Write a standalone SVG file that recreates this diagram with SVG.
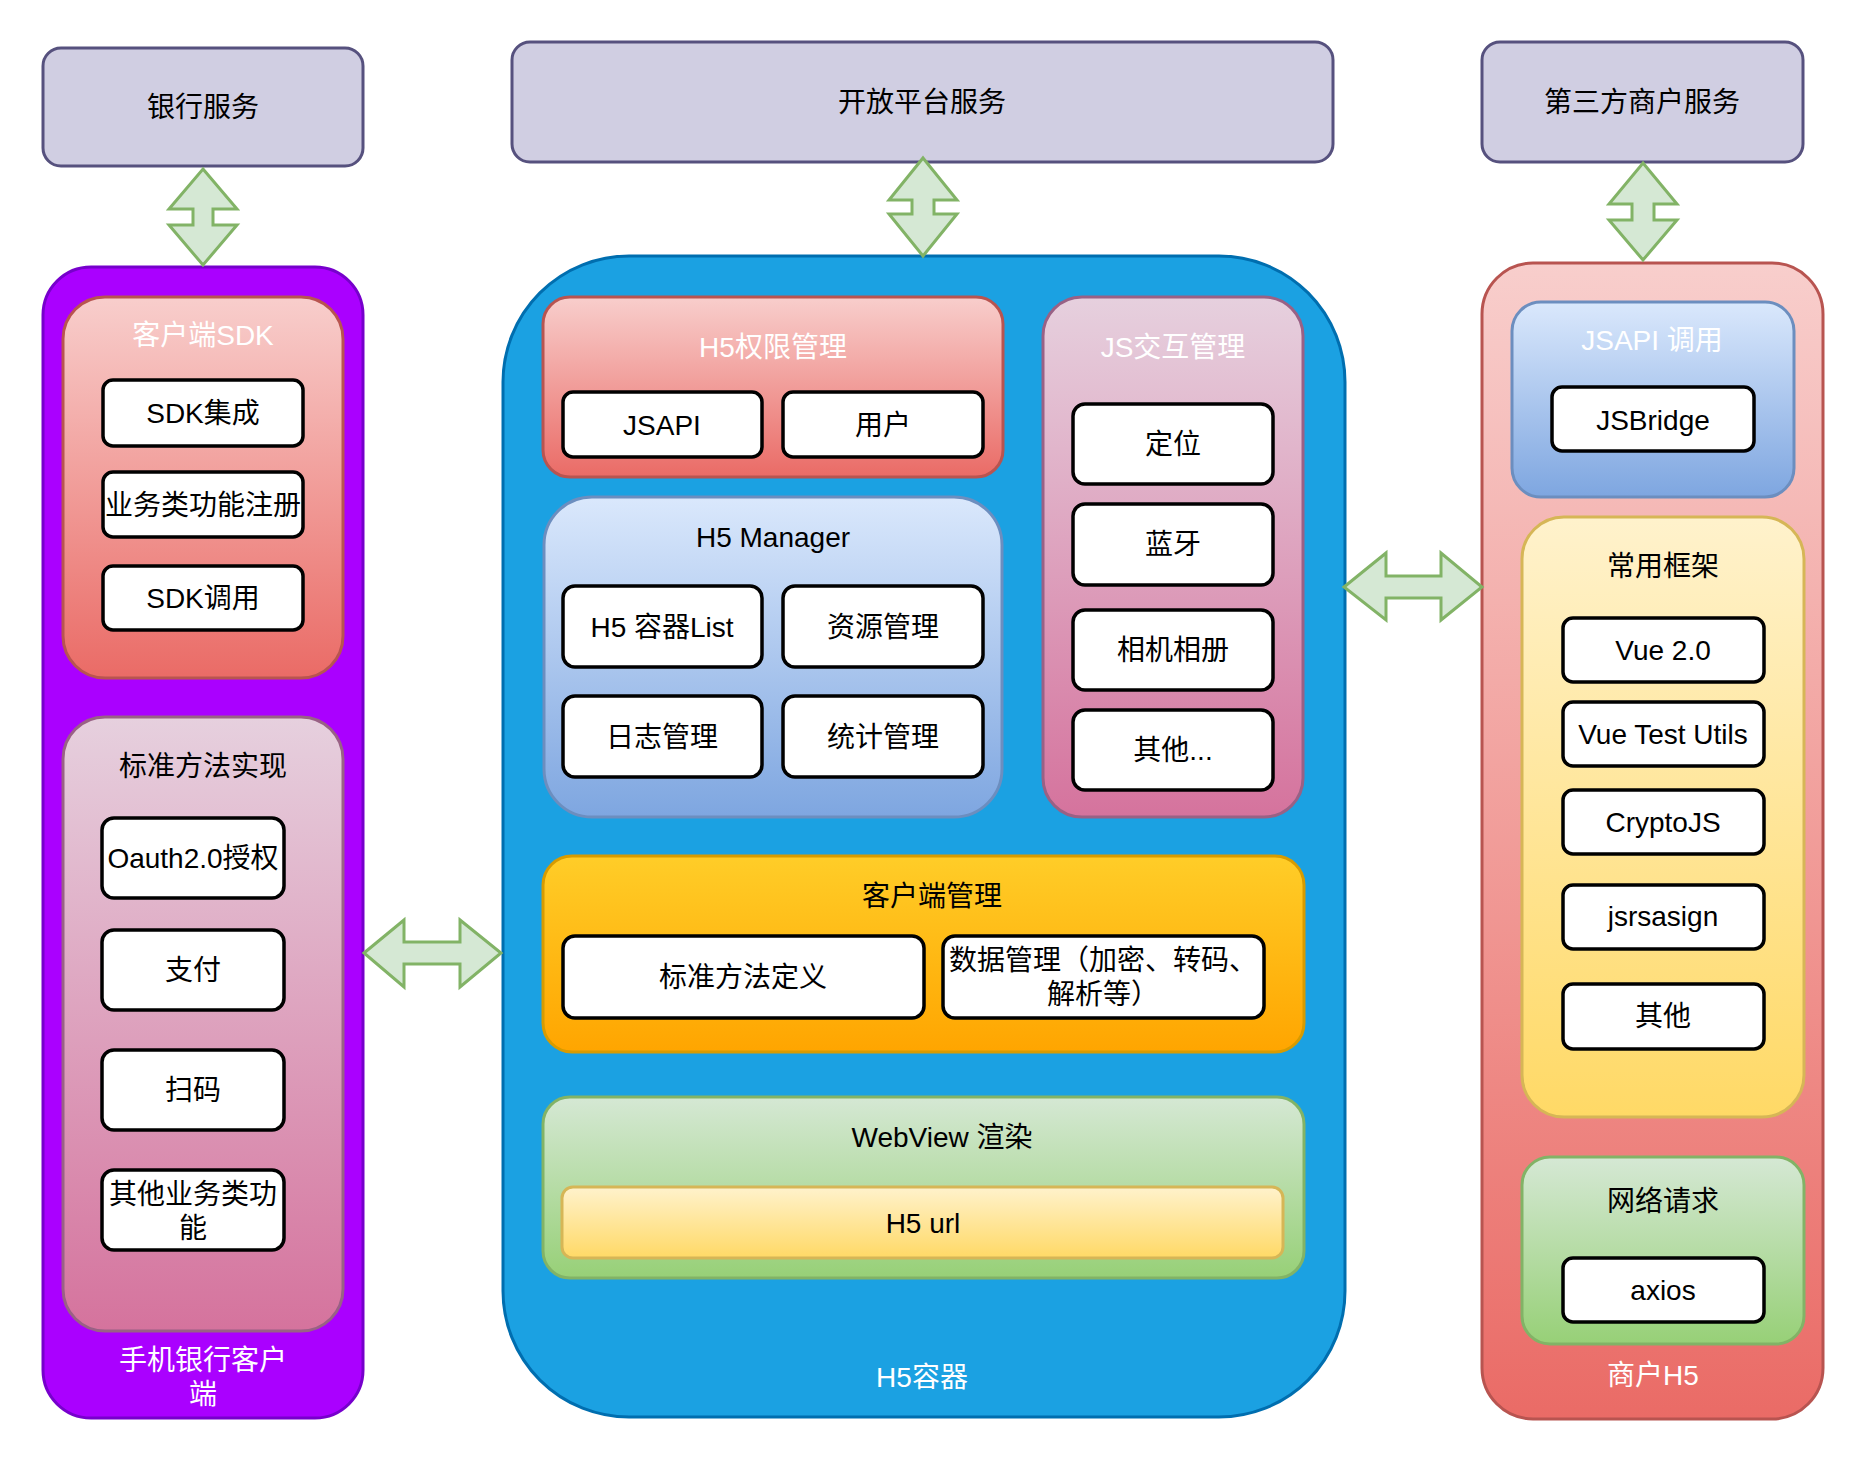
<svg xmlns="http://www.w3.org/2000/svg" width="1864" height="1462" viewBox="0 0 1864 1462">
<defs>
<linearGradient id="gRed" x1="0" y1="0" x2="0" y2="1"><stop offset="0" stop-color="#f8cecc"/><stop offset="1" stop-color="#ea6b66"/></linearGradient>
<linearGradient id="gPink" x1="0" y1="0" x2="0" y2="1"><stop offset="0" stop-color="#e6d0de"/><stop offset="1" stop-color="#d5739d"/></linearGradient>
<linearGradient id="gBlue" x1="0" y1="0" x2="0" y2="1"><stop offset="0" stop-color="#dae8fc"/><stop offset="1" stop-color="#7ea6e0"/></linearGradient>
<linearGradient id="gOrange" x1="0" y1="0" x2="0" y2="1"><stop offset="0" stop-color="#ffcd28"/><stop offset="1" stop-color="#ffa500"/></linearGradient>
<linearGradient id="gGreen" x1="0" y1="0" x2="0" y2="1"><stop offset="0" stop-color="#d5e8d4"/><stop offset="1" stop-color="#97d077"/></linearGradient>
<linearGradient id="gYellow" x1="0" y1="0" x2="0" y2="1"><stop offset="0" stop-color="#fff2cc"/><stop offset="1" stop-color="#ffd966"/></linearGradient>
</defs>
<style>
text{font-family:"Liberation Sans","Noto Sans CJK SC",sans-serif;font-size:28px;text-anchor:middle;dominant-baseline:central;fill:#000}
.w{fill:#fff}
.svc{fill:#d0cee2;stroke:#56517e;stroke-width:3}
.item{fill:#fff;stroke:#000;stroke-width:3.5}
.red{fill:url(#gRed);stroke:#b85450;stroke-width:3}
.pink{fill:url(#gPink);stroke:#996185;stroke-width:3}
.blue{fill:url(#gBlue);stroke:#6c8ebf;stroke-width:3}
.orange{fill:url(#gOrange);stroke:#d79b00;stroke-width:3}
.green{fill:url(#gGreen);stroke:#82b366;stroke-width:3}
.yellow{fill:url(#gYellow);stroke:#d6b656;stroke-width:3}
.arrow{fill:#d5e8d4;stroke:#82b366;stroke-width:3;stroke-linejoin:miter}
</style>
<rect width="1864" height="1462" fill="#fff"/>

<g id="bank-service"><rect class="svc" x="43" y="48" width="320" height="118" rx="18"/><text x="203" y="107">银行服务</text></g>
<g id="open-platform"><rect class="svc" x="512" y="42" width="821" height="120" rx="18"/><text x="922" y="102">开放平台服务</text></g>
<g id="third-party"><rect class="svc" x="1482" y="42" width="321" height="120" rx="18"/><text x="1642" y="102">第三方商户服务</text></g>

<g id="mobile-bank-client">
<rect x="43" y="267" width="320" height="1151" rx="48" fill="#aa00ff" stroke="#7700cc" stroke-width="3"/>
<text class="w" x="203" y="1360">手机银行客户</text>
<text class="w" x="203" y="1394">端</text>
</g>
<g id="client-sdk">
<rect class="red" x="63" y="297" width="280" height="381" rx="42"/>
<text class="w" x="203" y="335">客户端SDK</text>
</g>
<g id="sdk-integrate"><rect class="item" x="103" y="380" width="200" height="66" rx="10"/><text x="203" y="413">SDK集成</text></g>
<g id="biz-register"><rect class="item" x="103" y="472" width="200" height="65" rx="10"/><text x="203" y="505">业务类功能注册</text></g>
<g id="sdk-call"><rect class="item" x="103" y="566" width="200" height="64" rx="10"/><text x="203" y="598">SDK调用</text></g>

<g id="std-impl">
<rect class="pink" x="63" y="717" width="280" height="614" rx="42"/>
<text x="203" y="766">标准方法实现</text>
</g>
<g id="oauth"><rect class="item" x="102" y="818" width="182" height="80" rx="12"/><text x="193" y="858">Oauth2.0授权</text></g>
<g id="pay"><rect class="item" x="102" y="930" width="182" height="80" rx="12"/><text x="193" y="970">支付</text></g>
<g id="scan"><rect class="item" x="102" y="1050" width="182" height="80" rx="12"/><text x="193" y="1090">扫码</text></g>
<g id="other-biz"><rect class="item" x="102" y="1170" width="182" height="80" rx="12"/><text x="193" y="1194">其他业务类功</text><text x="193" y="1228">能</text></g>

<g id="h5-container">
<rect x="503" y="256" width="842" height="1161" rx="126" fill="#1ba1e2" stroke="#006eaf" stroke-width="3"/>
<text class="w" x="922" y="1377">H5容器</text>
</g>
<g id="h5-permission">
<rect class="red" x="543" y="297" width="460" height="180" rx="27"/>
<text class="w" x="773" y="347">H5权限管理</text>
</g>
<g id="perm-jsapi"><rect class="item" x="563" y="392" width="199" height="65" rx="10"/><text x="662" y="425">JSAPI</text></g>
<g id="perm-user"><rect class="item" x="783" y="392" width="200" height="65" rx="10"/><text x="883" y="425">用户</text></g>

<g id="h5-manager">
<rect class="blue" x="544" y="497" width="458" height="320" rx="48"/>
<text x="773" y="537">H5 Manager</text>
</g>
<g id="h5-list"><rect class="item" x="563" y="586" width="199" height="81" rx="12"/><text x="662" y="627">H5 容器List</text></g>
<g id="resource-mgr"><rect class="item" x="783" y="586" width="200" height="81" rx="12"/><text x="883" y="627">资源管理</text></g>
<g id="log-mgr"><rect class="item" x="563" y="696" width="199" height="81" rx="12"/><text x="662" y="737">日志管理</text></g>
<g id="stat-mgr"><rect class="item" x="783" y="696" width="200" height="81" rx="12"/><text x="883" y="737">统计管理</text></g>

<g id="js-interaction">
<rect class="pink" x="1043" y="297" width="260" height="520" rx="39"/>
<text class="w" x="1173" y="347">JS交互管理</text>
</g>
<g id="location"><rect class="item" x="1073" y="404" width="200" height="80" rx="12"/><text x="1173" y="444">定位</text></g>
<g id="bluetooth"><rect class="item" x="1073" y="504" width="200" height="81" rx="12"/><text x="1173" y="544">蓝牙</text></g>
<g id="camera"><rect class="item" x="1073" y="610" width="200" height="80" rx="12"/><text x="1173" y="650">相机相册</text></g>
<g id="js-other"><rect class="item" x="1073" y="710" width="200" height="80" rx="12"/><text x="1173" y="750">其他...</text></g>

<g id="client-mgr">
<rect class="orange" x="543" y="856" width="761" height="196" rx="29"/>
<text x="932" y="896">客户端管理</text>
</g>
<g id="std-define"><rect class="item" x="563" y="936" width="361" height="82" rx="12"/><text x="743" y="977">标准方法定义</text></g>
<g id="data-mgr"><rect class="item" x="943" y="936" width="321" height="82" rx="12"/><text x="1103" y="960">数据管理（加密、转码、</text><text x="1103" y="994">解析等）</text></g>

<g id="webview">
<rect class="green" x="543" y="1097" width="761" height="181" rx="27"/>
<text x="942" y="1137">WebView 渲染</text>
</g>
<g id="h5-url"><rect class="yellow" x="562" y="1187" width="721" height="71" rx="11"/><text x="923" y="1223">H5 url</text></g>

<g id="merchant-h5">
<rect class="red" x="1482" y="263" width="341" height="1156" rx="51"/>
<text class="w" x="1653" y="1375">商户H5</text>
</g>
<g id="jsapi-call">
<rect class="blue" x="1512" y="302" width="282" height="195" rx="29"/>
<text class="w" x="1652" y="340">JSAPI 调用</text>
</g>
<g id="jsbridge"><rect class="item" x="1552" y="387" width="202" height="64" rx="10"/><text x="1653" y="420">JSBridge</text></g>

<g id="frameworks">
<rect class="yellow" x="1522" y="517" width="282" height="600" rx="42"/>
<text x="1663" y="566">常用框架</text>
</g>
<g id="vue"><rect class="item" x="1563" y="618" width="201" height="64" rx="10"/><text x="1663" y="650">Vue 2.0</text></g>
<g id="vue-test-utils"><rect class="item" x="1563" y="702" width="201" height="64" rx="10"/><text x="1663" y="734">Vue Test Utils</text></g>
<g id="cryptojs"><rect class="item" x="1563" y="790" width="201" height="64" rx="10"/><text x="1663" y="822">CryptoJS</text></g>
<g id="jsrsasign"><rect class="item" x="1563" y="885" width="201" height="64" rx="10"/><text x="1663" y="916">jsrsasign</text></g>
<g id="fw-other"><rect class="item" x="1563" y="984" width="201" height="65" rx="10"/><text x="1663" y="1016">其他</text></g>

<g id="network">
<rect class="green" x="1522" y="1157" width="282" height="187" rx="28"/>
<text x="1663" y="1201">网络请求</text>
</g>
<g id="axios"><rect class="item" x="1563" y="1258" width="201" height="64" rx="10"/><text x="1663" y="1290">axios</text></g>

<g id="connectors">
<polygon class="arrow" points="203,169 237,209 213,209 213,225 237,225 203,265 169,225 193,225 193,209 169,209"/>
<polygon class="arrow" points="923,158 957,200 934,200 934,214 957,214 923,256 889,214 912,214 912,200 889,200"/>
<polygon class="arrow" points="1643,163 1677,204 1654,204 1654,220 1677,220 1643,260 1609,220 1632,220 1632,204 1609,204"/>
<polygon class="arrow" points="364,953 404,920 404,942 460,942 460,920 501,953 460,987 460,964 404,964 404,987"/>
<polygon class="arrow" points="1344,587 1386,553 1386,576 1441,576 1441,553 1482,587 1441,620 1441,598 1386,598 1386,620"/>
</g>
</svg>
